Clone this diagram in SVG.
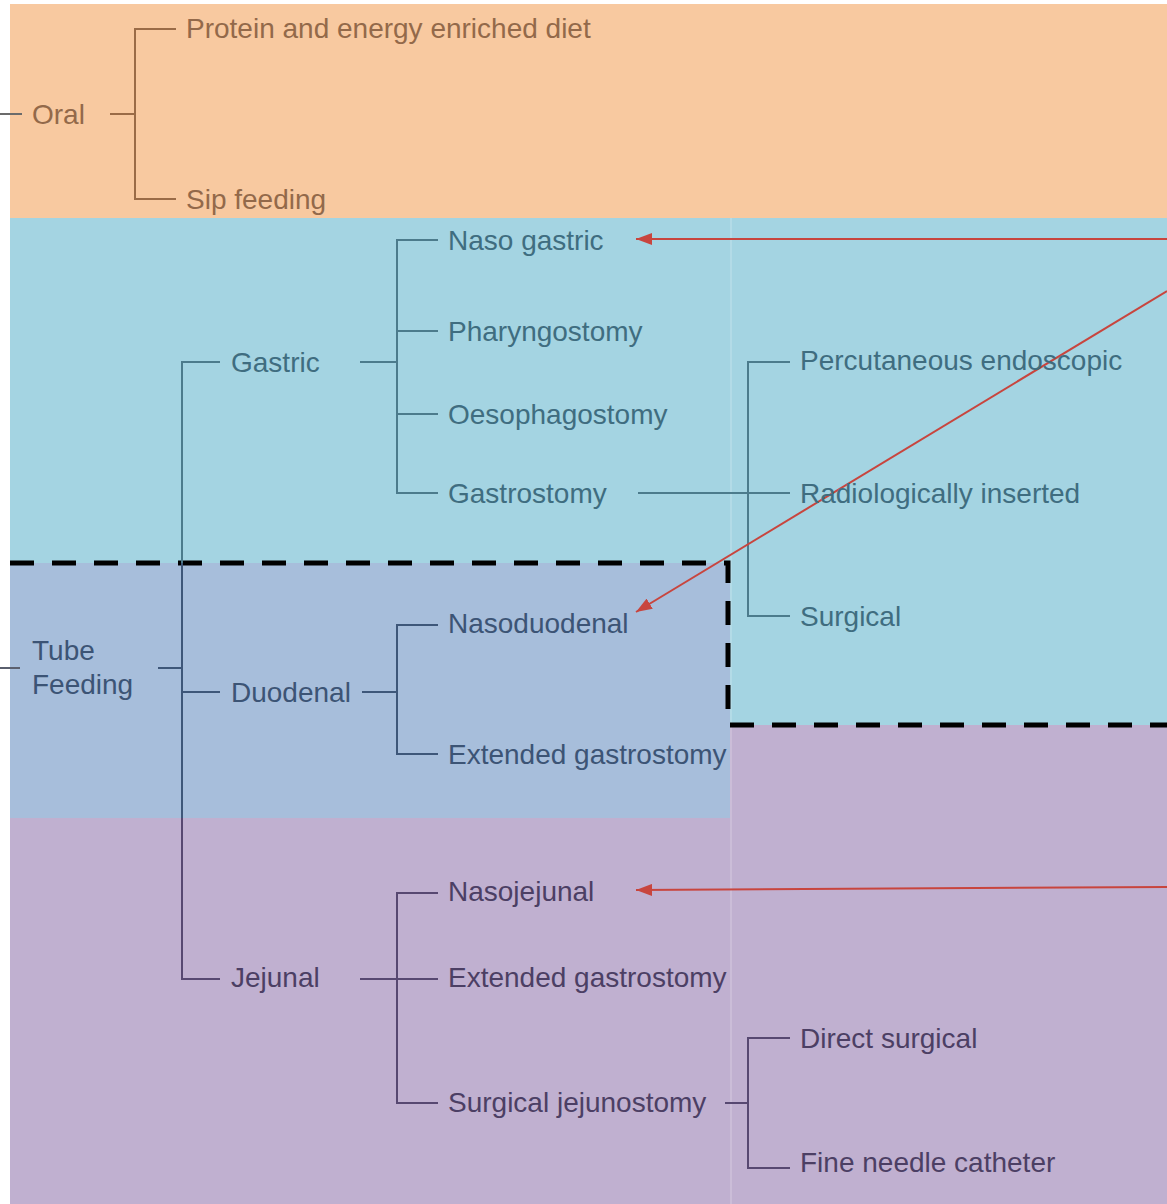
<svg xmlns="http://www.w3.org/2000/svg" width="1167" height="1204" viewBox="0 0 1167 1204">
<defs>
<style>
text{font-family:"Liberation Sans",Arial,sans-serif;font-size:28px}
.to{fill:#93694a}.tg{fill:#3f6d80}.td{fill:#3c5475}.tj{fill:#4c3f64}
.lo{stroke:#9a6b47;stroke-width:2;fill:none}
.lg{stroke:#4c7b8c;stroke-width:2;fill:none}
.ld{stroke:#3e5779;stroke-width:2;fill:none}
.lj{stroke:#574871;stroke-width:2;fill:none}
.red{stroke:#c8453e;stroke-width:2;fill:none}
</style>
<marker id="ah" viewBox="0 0 10 10" refX="10" refY="5" markerWidth="8" markerHeight="8" markerUnits="userSpaceOnUse" orient="auto">
<path d="M0,0 L10,5 L0,10 z" fill="#c8453e"/>
</marker>
<marker id="ah2" viewBox="0 0 16 12" refX="16" refY="6" markerWidth="16" markerHeight="12" markerUnits="userSpaceOnUse" orient="auto">
<path d="M0,0 L16,6 L0,12 z" fill="#c8453e"/>
</marker>
</defs>
<rect width="1167" height="1204" fill="#ffffff"/>
<g id="regions">
<rect x="10" y="4" width="1157" height="214" fill="#f8c9a0"/>
<rect x="10" y="218" width="1157" height="345" fill="#a4d4e2"/>
<rect x="730" y="563" width="437" height="162" fill="#a4d4e2"/>
<rect x="10" y="563" width="720" height="255" fill="#a7bedb"/>
<rect x="10" y="818" width="720" height="386" fill="#c0b0d0"/>
<rect x="730" y="725" width="437" height="479" fill="#c0b0d0"/>
<line x1="731" y1="218" x2="731" y2="1204" stroke="#ffffff" stroke-opacity="0.35" stroke-width="1"/>
<path d="M10,563 H728 V725 H1167" fill="none" stroke="#000" stroke-width="5" stroke-dasharray="24 18"/>
</g>
<g id="connectors">
<line x1="0" y1="114" x2="22" y2="114" stroke="#6b6b6b" stroke-width="2"/>
<line x1="0" y1="668" x2="20" y2="668" stroke="#5a5f6e" stroke-width="2"/>
<path class="lo" d="M110,114 H135 M176,29 H135 V199 H176"/>
<path class="lg" d="M220,362 H182 V563"/>
<path class="ld" d="M182,563 V818 M158,668 H182 M182,692 H220"/>
<path class="lj" d="M182,818 V979 H220"/>
<path class="lg" d="M360,362 H397 M438,240 H397 V493 H438 M397,331 H438 M397,414 H438"/>
<path class="lg" d="M638,493 H790 M790,362 H748 V616 H790"/>
<path class="ld" d="M362,692 H397 M438,625 H397 V754 H438"/>
<path class="lj" d="M360,979 H438 M438,893 H397 V1103 H438"/>
<path class="lj" d="M725,1103 H748 M790,1038 H748 V1168 H790"/>
<line class="red" x1="1167" y1="239" x2="636" y2="239" marker-end="url(#ah2)"/>
<line class="red" x1="1167" y1="291" x2="636" y2="612" marker-end="url(#ah2)"/>
<line class="red" x1="1167" y1="887" x2="636" y2="890" marker-end="url(#ah2)"/>
</g>
<g id="oral"><text class="to" x="32" y="124">Oral</text></g>
<g id="protein"><text class="to" x="186" y="38">Protein and energy enriched diet</text></g>
<g id="sip"><text class="to" x="186" y="209">Sip feeding</text></g>
<g id="tube"><text class="td" x="32" y="660">Tube</text><text class="td" x="32" y="694">Feeding</text></g>
<g id="gastric"><text class="tg" x="231" y="372">Gastric</text></g>
<g id="nasogastric"><text class="tg" x="448" y="250">Naso gastric</text></g>
<g id="pharyngostomy"><text class="tg" x="448" y="341">Pharyngostomy</text></g>
<g id="oesophagostomy"><text class="tg" x="448" y="424">Oesophagostomy</text></g>
<g id="gastrostomy"><text class="tg" x="448" y="503">Gastrostomy</text></g>
<g id="percutaneous"><text class="tg" x="800" y="370">Percutaneous endoscopic</text></g>
<g id="radiological"><text class="tg" x="800" y="503">Radiologically inserted</text></g>
<g id="surgical"><text class="tg" x="800" y="626">Surgical</text></g>
<g id="duodenal"><text class="td" x="231" y="702">Duodenal</text></g>
<g id="nasoduodenal"><text class="td" x="448" y="633">Nasoduodenal</text></g>
<g id="extgastro1"><text class="td" x="448" y="764">Extended gastrostomy</text></g>
<g id="jejunal"><text class="tj" x="231" y="987">Jejunal</text></g>
<g id="nasojejunal"><text class="tj" x="448" y="901">Nasojejunal</text></g>
<g id="extgastro2"><text class="tj" x="448" y="987">Extended gastrostomy</text></g>
<g id="surgjejuno"><text class="tj" x="448" y="1112">Surgical jejunostomy</text></g>
<g id="directsurg"><text class="tj" x="800" y="1048">Direct surgical</text></g>
<g id="fineneedle"><text class="tj" x="800" y="1172">Fine needle catheter</text></g>
</svg>
